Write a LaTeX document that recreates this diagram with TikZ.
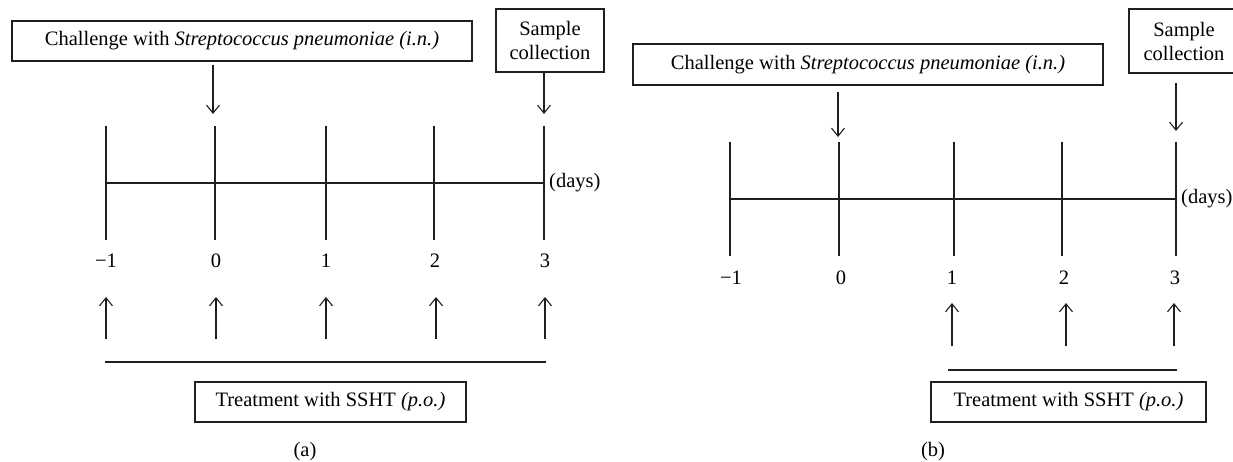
\documentclass[tikz,border=0pt]{standalone}
\usepackage{fontspec}
\setmainfont{Liberation Serif}
\usetikzlibrary{arrows.meta}
\begin{document}
\begin{tikzpicture}[x=1pt,y=-1pt,
  ln/.style={line width=1.1pt, draw=black!88},
  arr/.style={ln, -{Straight Barb[length=8pt,width=13pt,line width=1.1pt]}},
  boxnode/.style={draw=black!88, line width=1.1pt, inner sep=0pt,
    font=\fontsize{20.5}{24}\selectfont, align=center},
  lbl/.style={font=\fontsize{20.5}{24}\selectfont, inner sep=0pt}]
\useasboundingbox (0,0) rectangle (1233,462);
\clip (0,0) rectangle (1233,462);

% ---------------- Panel (a) ----------------
\node[boxnode, minimum width=460pt, minimum height=40pt] (chA) at (242,41)
  {Challenge with \textit{Streptococcus pneumoniae (i.n.)}};
\node[boxnode, minimum width=108pt, minimum height=63pt] (smA) at (550,40.5)
  {Sample\\collection};

\foreach \n/\x in {1/106, 2/215, 3/326, 4/434, 5/544} {
  \coordinate (aT\n) at (\x,126);
  \coordinate (aB\n) at (\x,240);
  \draw[ln] (aT\n) -- (aB\n);
}
\coordinate (aHL) at (106,183);
\coordinate (aHR) at (544,183);
\draw[ln] (aHL) -- (aHR);
\node[lbl, anchor=west] (daysA) at (549,183) {(days)};

\coordinate (aD0s) at (213,65);
\coordinate (aD0e) at (213,114);
\draw[arr] (aD0s) -- (aD0e);
\coordinate (aD3e) at (544,114);
\draw[arr] (smA.south -| aD3e) -- (aD3e);

\foreach \n/\x/\t in {1/106/−1, 2/216/0, 3/326/1, 4/435/2, 5/545/3} {
  \node[lbl] (aL\n) at (\x,261) {\t};
}
\foreach \n/\x in {1/106, 2/216, 3/326, 4/436, 5/545} {
  \coordinate (aUs\n) at (\x,339);
  \coordinate (aUe\n) at (\x,297);
  \draw[arr] (aUs\n) -- (aUe\n);
}
\coordinate (aUL) at (105,362);
\coordinate (aUR) at (546,362);
\draw[ln] (aUL) -- (aUR);
\node[boxnode, minimum width=271pt, minimum height=40pt] (trA) at (330.5,402)
  {Treatment with SSHT \textit{(p.o.)}};
\node[lbl] (capA) at (305,452) {(a)};

% ---------------- Panel (b) ----------------
\node[boxnode, minimum width=470pt, minimum height=41pt] (chB) at (868,64.5)
  {Challenge with \textit{Streptococcus pneumoniae (i.n.)}};
\node[boxnode, minimum width=110pt, minimum height=64pt] (smB) at (1184,41)
  {Sample\\collection};

\foreach \n/\x in {1/730, 2/839, 3/954, 4/1062, 5/1176} {
  \coordinate (bT\n) at (\x,142);
  \coordinate (bB\n) at (\x,256);
  \draw[ln] (bT\n) -- (bB\n);
}
\coordinate (bHL) at (730,199);
\coordinate (bHR) at (1176,199);
\draw[ln] (bHL) -- (bHR);
\node[lbl, anchor=west] (daysB) at (1181,199) {(days)};

\coordinate (bD0s) at (838,92);
\coordinate (bD0e) at (838,137);
\draw[arr] (bD0s) -- (bD0e);
\coordinate (bD3s) at (1176,83);
\coordinate (bD3e) at (1176,131);
\draw[arr] (bD3s) -- (bD3e);

\foreach \n/\x/\t in {1/731/−1, 2/841/0, 3/952/1, 4/1064/2, 5/1175/3} {
  \node[lbl] (bL\n) at (\x,278) {\t};
}
\foreach \n/\x in {3/952, 4/1066, 5/1174} {
  \coordinate (bUs\n) at (\x,346);
  \coordinate (bUe\n) at (\x,303);
  \draw[arr] (bUs\n) -- (bUe\n);
}
\coordinate (bUL) at (948,370);
\coordinate (bUR) at (1177,370);
\draw[ln] (bUL) -- (bUR);
\node[boxnode, minimum width=275pt, minimum height=40pt] (trB) at (1068.5,402)
  {Treatment with SSHT \textit{(p.o.)}};
\node[lbl] (capB) at (933,452) {(b)};
\end{tikzpicture}
\end{document}
